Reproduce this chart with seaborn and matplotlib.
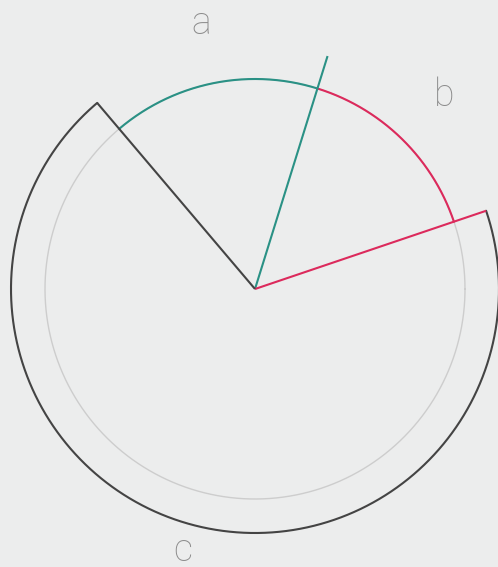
import numpy as np
import pandas as pd
import matplotlib
matplotlib.use("Agg")
import matplotlib.pyplot as plt
import seaborn as sns

categories = ["a", "b", "c"]
values = [16, 15, 69]
colors = ["#2a9185", "#dc2a5c", "#444444"]

sns.set_theme(style="white", rc={"axes.facecolor": "#eceded", "figure.facecolor": "#eceded"})
plt.rcParams["font.family"] = ["Roboto", "DejaVu Sans"]

W, H = 498, 567
fig = plt.figure(figsize=(W / 100, H / 100), dpi=100)
ax = fig.add_axes([0, 0, 1, 1])
cx, cy = 255, 289
ax.set_xlim(-cx, W - cx)
ax.set_ylim(-(H - cy), cy)
ax.set_aspect("equal")
ax.axis("off")

r_in, r_out = 210, 244
start = 130.3
total = sum(values)

# faint full circle
t = np.linspace(0, 2 * np.pi, 600)
ax.plot(r_in * np.cos(t), r_in * np.sin(t), color="#cdcdcd", lw=1.0, zorder=1)

theta = start
for i, (cat, v, col) in enumerate(zip(categories, values, colors)):
    span = 360 * v / total
    t1, t2 = theta, theta - span
    r = r_out if cat == "c" else r_in
    tt = np.radians(np.linspace(t1, t2, 300))
    df = pd.DataFrame({"x": r * np.cos(tt), "y": r * np.sin(tt)})
    sns.lineplot(data=df, x="x", y="y", sort=False, color=col, lw=1.5, ax=ax, zorder=3, estimator=None)
    e = np.radians(t2)
    ax.plot([0, r_out * np.cos(e)], [0, r_out * np.sin(e)], color=col, lw=1.5, zorder=4,
            solid_capstyle="butt")
    mid = np.radians((t1 + t2) / 2)
    ax.text(271 * np.cos(mid), 271 * np.sin(mid) - 10.5, cat, ha="center", va="baseline",
            fontsize=27, color="#8c8c8c", fontweight="light")
    theta = t2

fig.savefig("out.png", dpi=100)
